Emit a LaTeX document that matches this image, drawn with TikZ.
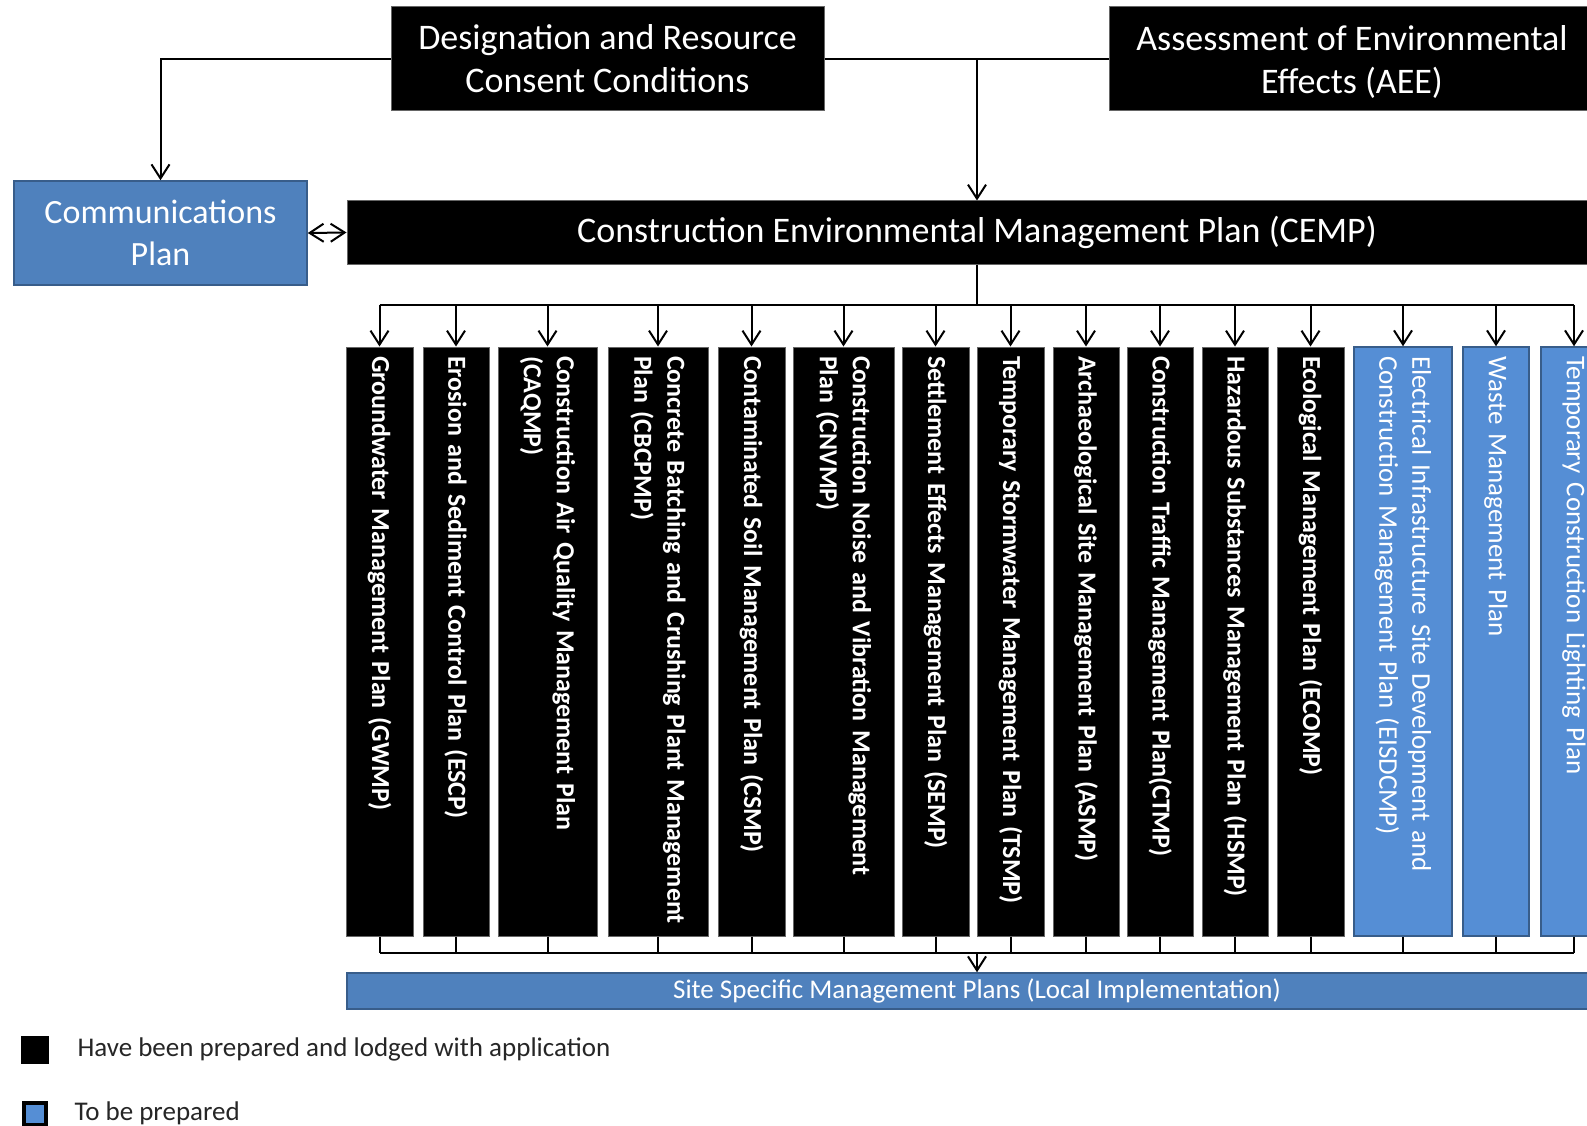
\documentclass[tikz,border=0pt]{standalone}
\usepackage{fontspec}
\setmainfont{Carlito}
\usetikzlibrary{arrows.meta,positioning}
\definecolor{commblue}{HTML}{4F81BD}
\definecolor{colblue}{HTML}{558ED5}
\definecolor{boxline}{HTML}{385D8A}
\tikzset{black box/.style={rectangle,fill=black,draw=black!60,line width=1pt,text=white,align=center,inner sep=0pt,font=\fontsize{36}{43}\selectfont},
         blue box/.style={rectangle,fill=commblue,draw=boxline,line width=1.5pt,text=white,align=center,inner sep=0pt},
         plan col/.style={rectangle,rotate=-90,fill=black,draw=black!60,line width=1pt,text=white,align=left,text width=571pt,inner xsep=9pt,inner ysep=0pt,font=\bfseries\fontsize{26}{33}\selectfont},
         todo col/.style={plan col,fill=colblue,draw=boxline,line width=1.5pt,font=\fontsize{27}{33}\selectfont},
         legend text/.style={rectangle,inner sep=0pt,anchor=west,text=black!85,font=\fontsize{27}{32}\selectfont}
}
\begin{document}
\begin{tikzpicture}[x=1pt,y=-1pt,line width=2pt,>={Straight Barb[length=14pt,width=18pt]}]
\clip (0,0) rectangle (1587,1126);
\node[black box,minimum width=433pt,minimum height=104pt] (drc) at (607.5,59) {Designation and Resource\\Consent Conditions};
\node[black box,minimum width=486pt,minimum height=104pt] (aee) at (1352,59) {\strut Assessment of Environmental\\Effects (AEE)};
\node[blue box,minimum width=293pt,minimum height=104pt,font=\fontsize{34}{42}\selectfont] (comm) at (160.5,233) {Communications\\Plan};
\node[black box,minimum width=1260pt,minimum height=63pt] (cemp) at (977,232.5) {Construction Environmental Management Plan (CEMP)};

\node[plan col,minimum height=67pt] (gwmp) at (379.5,641.5) {Groundwater Management Plan (GWMP)};
\node[plan col,minimum height=66pt] (escp) at (456,641.5) {Erosion and Sediment Control Plan (ESCP)};
\node[plan col,minimum height=99pt] (caqmp) at (547.5,641.5) {Construction Air Quality Management Plan\\(CAQMP)};
\node[plan col,minimum height=100pt] (cbcpmp) at (658,641.5) {Concrete Batching and Crushing Plant Management\\Plan (CBCPMP)};
\node[plan col,minimum height=67pt] (csmp) at (751.5,641.5) {Contaminated Soil Management Plan (CSMP)};
\node[plan col,minimum height=101pt] (cnvmp) at (843.5,641.5) {Construction Noise and Vibration Management\\Plan (CNVMP)};
\node[plan col,minimum height=67pt] (semp) at (935.5,641.5) {Settlement Effects Management Plan (SEMP)};
\node[plan col,minimum height=67pt] (tsmp) at (1010.5,641.5) {Temporary Stormwater Management Plan (TSMP)};
\node[plan col,minimum height=66pt] (asmp) at (1086,641.5) {Archaeological Site Management Plan (ASMP)};
\node[plan col,minimum height=66pt] (ctmp) at (1160,641.5) {Construction Traffic Management Plan(CTMP)};
\node[plan col,minimum height=66pt] (hsmp) at (1235,641.5) {Hazardous Substances Management Plan (HSMP)};
\node[plan col,minimum height=67pt] (ecomp) at (1310.5,641.5) {Ecological Management Plan (ECOMP)};
\node[todo col,minimum height=98pt] (eisdcmp) at (1403,641.5) {Electrical Infrastructure Site Development and\\Construction Management Plan (EISDCMP)};
\node[todo col,minimum height=66pt] (wmp) at (1496,641.5) {Waste Management Plan};
\node[todo col,minimum height=66pt] (tclp) at (1574,641.5) {Temporary Construction Lighting Plan};

\node[blue box,minimum width=1260pt,minimum height=36pt,font=\fontsize{27}{32}\selectfont] (ssmp) at (977,991) {Site Specific Management Plans (Local Implementation)};

\node[rectangle,draw=black,fill=black,minimum size=26pt,inner sep=0pt] (leg1) at (34.5,1049.5) {};
\node[legend text,right=28pt of leg1] (leg1t) {Have been prepared and lodged with application};
\node[rectangle,draw=black,line width=4pt,fill=colblue,minimum size=22pt,inner sep=0pt] (leg2) at (34.5,1113.5) {};
\node[legend text,right=26pt of leg2] (leg2t) {To be prepared};

\coordinate (topbus) at (977,305);
\coordinate (botbus) at (977,953);
\draw[->] (drc.west) -| (comm.north);
\draw (drc.east) -- (aee.west);
\draw[->] (drc.east -| cemp.north) -- (cemp.north);
\draw[<->] (comm.east) -- (cemp.west);
\draw (cemp.south) -- (topbus);
\draw (gwmp.west |- topbus) -- (tclp.west |- topbus);
\draw[->] (gwmp.west |- topbus) -- (gwmp.west);
\draw[->] (escp.west |- topbus) -- (escp.west);
\draw[->] (caqmp.west |- topbus) -- (caqmp.west);
\draw[->] (cbcpmp.west |- topbus) -- (cbcpmp.west);
\draw[->] (csmp.west |- topbus) -- (csmp.west);
\draw[->] (cnvmp.west |- topbus) -- (cnvmp.west);
\draw[->] (semp.west |- topbus) -- (semp.west);
\draw[->] (tsmp.west |- topbus) -- (tsmp.west);
\draw[->] (asmp.west |- topbus) -- (asmp.west);
\draw[->] (ctmp.west |- topbus) -- (ctmp.west);
\draw[->] (hsmp.west |- topbus) -- (hsmp.west);
\draw[->] (ecomp.west |- topbus) -- (ecomp.west);
\draw[->] (eisdcmp.west |- topbus) -- (eisdcmp.west);
\draw[->] (wmp.west |- topbus) -- (wmp.west);
\draw[->] (tclp.west |- topbus) -- (tclp.west);
\draw (gwmp.east) -- (gwmp.east |- botbus) (escp.east) -- (escp.east |- botbus)
      (caqmp.east) -- (caqmp.east |- botbus) (cbcpmp.east) -- (cbcpmp.east |- botbus)
      (csmp.east) -- (csmp.east |- botbus) (cnvmp.east) -- (cnvmp.east |- botbus)
      (semp.east) -- (semp.east |- botbus) (tsmp.east) -- (tsmp.east |- botbus)
      (asmp.east) -- (asmp.east |- botbus) (ctmp.east) -- (ctmp.east |- botbus)
      (hsmp.east) -- (hsmp.east |- botbus) (ecomp.east) -- (ecomp.east |- botbus)
      (eisdcmp.east) -- (eisdcmp.east |- botbus) (wmp.east) -- (wmp.east |- botbus)
      (tclp.east) -- (tclp.east |- botbus);
\draw (gwmp.east |- botbus) -- (tclp.east |- botbus);
\draw[->] (botbus) -- (ssmp.north);
\end{tikzpicture}
\end{document}
